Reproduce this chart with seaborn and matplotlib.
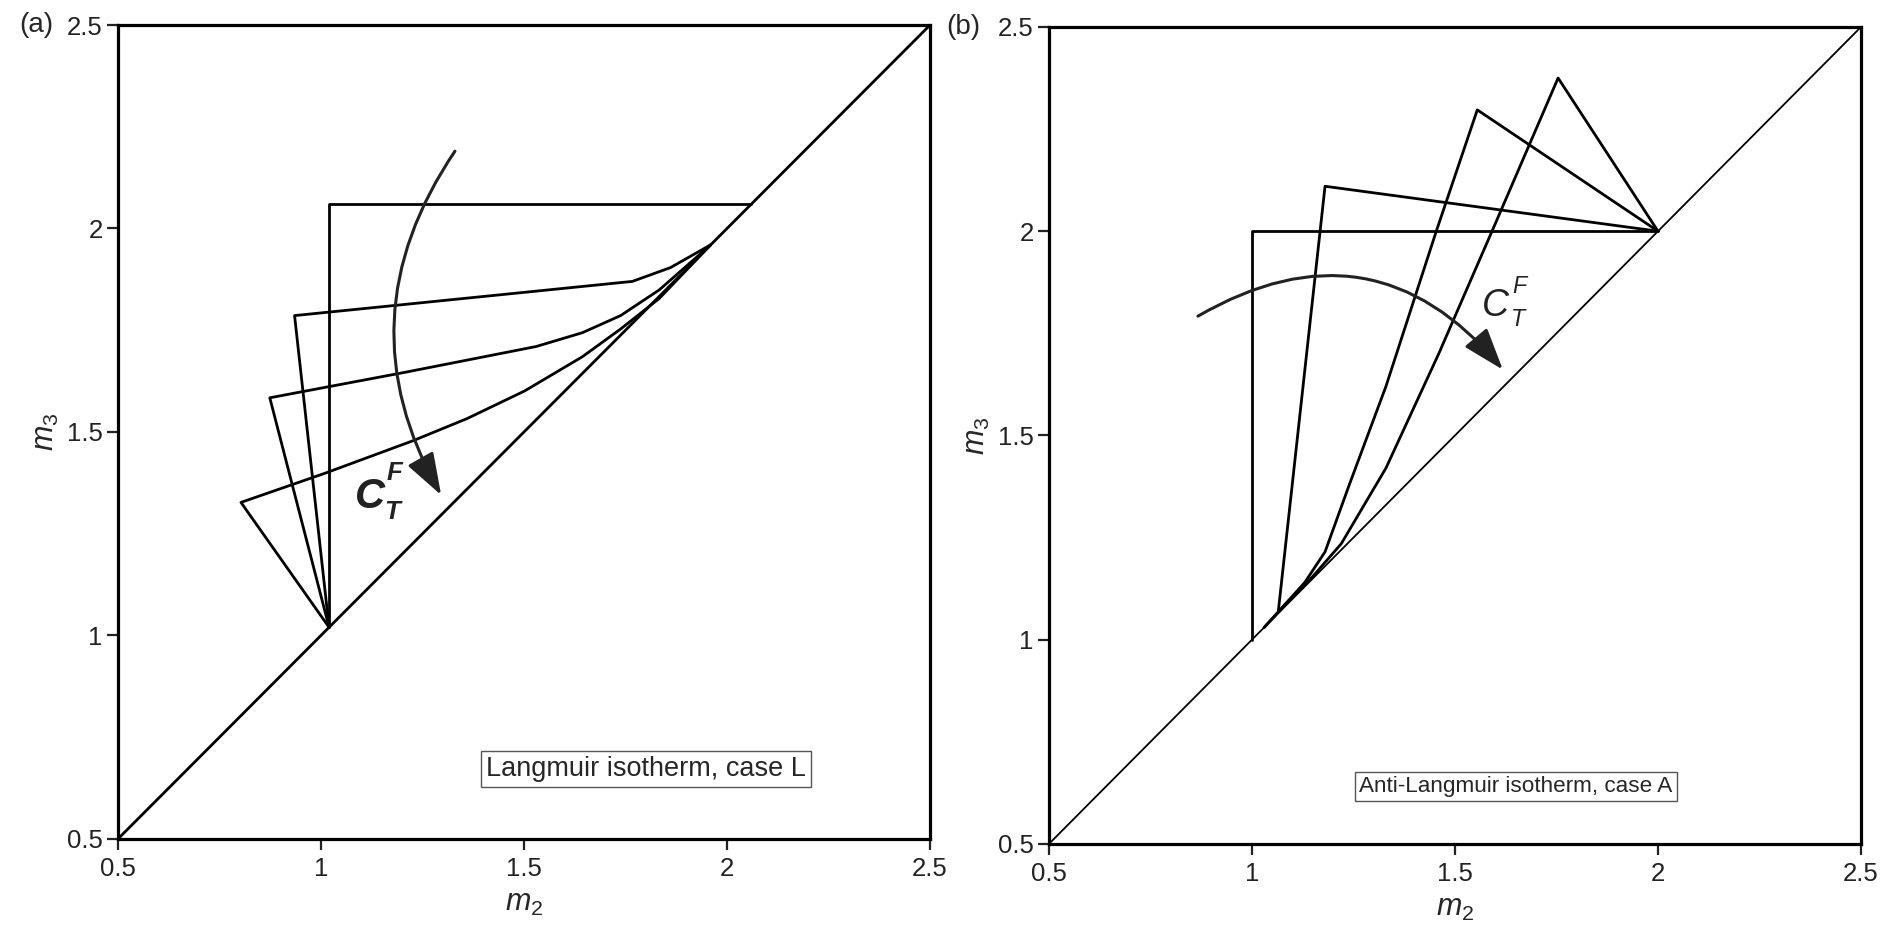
import numpy as np
import pandas as pd
import matplotlib
matplotlib.use("Agg")
import matplotlib.pyplot as plt
import seaborn as sns

# ---- data ----
diag = [0.5, 2.5]
ticks = [0.5, 1.0, 1.5, 2.0, 2.5]
tick_labels = ["0.5", "1", "1.5", "2", "2.5"]

# panel (a): Langmuir isotherm, case L
a1_x = [1.02, 1.02, 2.06]
a1_y = [1.02, 2.06, 2.06]
a2_x = [1.02, 0.935, 1.767, 1.861, 1.96]
a2_y = [1.02, 1.786, 1.870, 1.904, 1.96]
a3_x = [1.02, 0.874, 1.209, 1.530, 1.644, 1.738, 1.833, 1.96]
a3_y = [1.02, 1.584, 1.647, 1.710, 1.744, 1.786, 1.849, 1.96]
a4_x = [1.02, 0.803, 1.011, 1.228, 1.360, 1.502, 1.644, 1.738, 1.833, 1.96]
a4_y = [1.02, 1.327, 1.399, 1.479, 1.533, 1.601, 1.685, 1.753, 1.828, 1.96]
a_arrow_start = (1.33, 2.19)
a_arrow_end = (1.296, 1.345)
a_label_pos = (1.12, 1.34)
a_box_text = "Langmuir isotherm, case L"
a_box_pos = (1.80, 0.672)

# panel (b): anti-Langmuir isotherm, case A
b1_x = [1.0, 1.0, 2.0]
b1_y = [1.0, 2.0, 2.0]
b2_x = [1.065, 1.18, 2.0]
b2_y = [1.07, 2.11, 2.0]
b3_x = [1.03, 1.08, 1.13, 1.18, 1.24, 1.33, 1.454, 1.555, 2.0]
b3_y = [1.03, 1.085, 1.14, 1.215, 1.38, 1.62, 2.0, 2.297, 2.0]
b4_x = [1.03, 1.08, 1.15, 1.22, 1.33, 1.46, 1.60, 1.754, 2.0]
b4_y = [1.03, 1.083, 1.155, 1.235, 1.42, 1.70, 2.02, 2.375, 2.0]
b_arrow_start = (0.867, 1.792)
b_arrow_end = (1.618, 1.661)
b_label_pos = (1.60, 1.818)
b_box_text = "Anti-Langmuir isotherm, case A"
b_box_pos = (1.65, 0.641)

sns.set_style("ticks")
plt.rcParams["font.family"] = ["Liberation Sans", "DejaVu Sans"]
plt.rcParams["mathtext.fontset"] = "custom"
plt.rcParams["mathtext.rm"] = "Liberation Sans"
plt.rcParams["mathtext.it"] = "Liberation Sans:italic"


def ct_label(ax, pos, size, weight, sup_off, sub_off):
    # C with superscript F and subscript T, spaced like the original
    ax.text(*pos, "C", fontsize=size, ha="center", va="center", style="italic",
            weight=weight, color="#222222")
    for s, off in (("F", sup_off), ("T", sub_off)):
        ax.annotate(s, xy=pos, xytext=off, textcoords="offset points", fontsize=size * 0.62,
                    ha="center", va="center", style="italic", weight=weight, color="#222222")


def draw_panel(ax, curves, diag_lw, arrow_start, arrow_end, rad, box_text, box_pos,
               box_size, tag, tag_x):
    sns.lineplot(x=diag, y=diag, ax=ax, color="black", lw=diag_lw, sort=False, estimator=None)
    for cx, cy in curves:
        sns.lineplot(x=cx, y=cy, ax=ax, color="black", lw=2.0, sort=False, estimator=None)
    ax.annotate("", xy=arrow_end, xytext=arrow_start,
                arrowprops=dict(arrowstyle="-|>,head_length=1.3,head_width=0.45",
                                connectionstyle=f"arc3,rad={rad}",
                                color="#222222", lw=2.2, mutation_scale=20,
                                shrinkA=0, shrinkB=0))
    ax.text(*box_pos, box_text, fontsize=box_size, ha="center", va="center",
            bbox=dict(boxstyle="square,pad=0.18", fc="white", ec="#555555", lw=1.0))
    ax.set_xlim(0.5, 2.5)
    ax.set_ylim(0.5, 2.5)
    ax.set_xticks(ticks)
    ax.set_yticks(ticks)
    ax.set_xticklabels(tick_labels, fontsize=18.5)
    ax.set_yticklabels(tick_labels, fontsize=18.5)
    ax.tick_params(direction="out", length=8, width=1.6, pad=3, colors="#222222")
    ax.tick_params(axis="x", pad=5)
    ax.set_xlabel(r"$m_2$", fontsize=22, labelpad=5)
    ax.set_ylabel(r"$m_3$", fontsize=22, labelpad=4)
    for s in ax.spines.values():
        s.set_visible(True)
        s.set_linewidth(2.3)
        s.set_color("black")
    ax.text(tag_x, 1.0, tag, transform=ax.transAxes, fontsize=20, ha="right", va="center")


fig = plt.figure(figsize=(18.93, 9.26), dpi=100)
ax_a = fig.add_axes([0.0623, 0.0940, 0.4290, 0.8790])
ax_b = fig.add_axes([0.5541, 0.0886, 0.4290, 0.8823])

draw_panel(ax_a, [(a1_x, a1_y), (a2_x, a2_y), (a3_x, a3_y), (a4_x, a4_y)], 2.0,
           a_arrow_start, a_arrow_end, 0.31, a_box_text, a_box_pos, 19.5, "(a)", -0.08)
ct_label(ax_a, a_label_pos, 30, "bold", (18, 17), (16, -11))

draw_panel(ax_b, [(b1_x, b1_y), (b2_x, b2_y), (b3_x, b3_y), (b4_x, b4_y)], 1.3,
           b_arrow_start, b_arrow_end, -0.42, b_box_text, b_box_pos, 16.2, "(b)", -0.085)
ct_label(ax_b, b_label_pos, 27, "normal", (17, 14), (16, -10))

fig.savefig("out.png", dpi=100)
